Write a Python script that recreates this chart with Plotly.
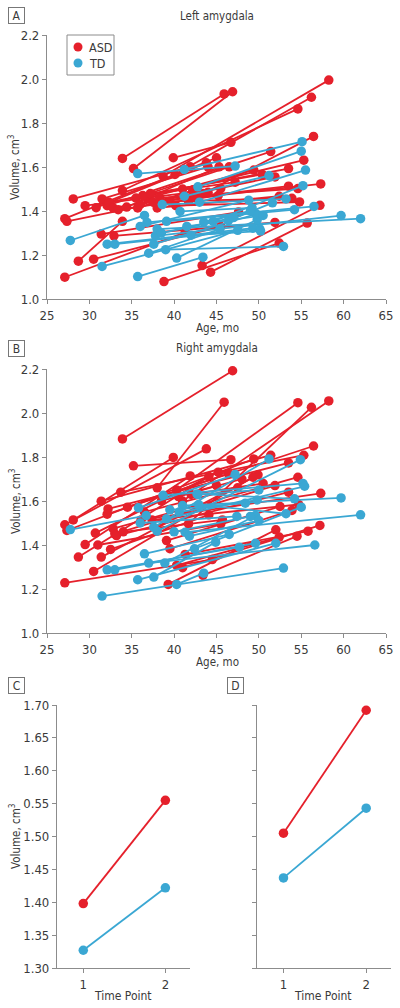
import plotly.graph_objects as go

# ---------------- DATA ----------------
# Panel A (Left amygdala): each subject = (age1, vol1) -> (age2, vol2)
a_asd_age1 = [27.1, 28.7, 30.5, 31.4, 32.9, 38.8, 43.3, 44.3, 33.9, 35.2, 38.7, 40.1, 33.9, 39.9, 41.7,
              27.1, 27.35, 28.1, 29.5, 30.8, 31.5, 32.1, 32.3, 32.8, 33.4, 34.4, 35.5, 35.7, 36.8, 37.2,
              38.0, 39.5, 40.2, 36.0, 37.5, 38.3, 41.0, 42.5, 36.3]
a_asd_vol1 = [1.099, 1.172, 1.181, 1.295, 1.287, 1.079, 1.152, 1.122, 1.639, 1.593, 1.558, 1.566, 1.493, 1.642, 1.444,
              1.365, 1.353, 1.455, 1.424, 1.415, 1.455, 1.424, 1.440, 1.414, 1.406, 1.418, 1.459, 1.414, 1.459, 1.479,
              1.414, 1.444, 1.424, 1.430, 1.440, 1.460, 1.500, 1.460, 1.470]
a_asd_age2 = [41.3, 33.9, 45.5, 47.6, 51.9, 52.4, 57.2, 55.7, 45.9, 46.9, 58.25, 56.2, 54.6, 46.7, 56.45,
              45.0, 43.4, 41.9, 45.5, 43.8, 44.0, 51.4, 53.5, 44.0, 45.2, 45.3, 46.5, 42.2, 49.4, 50.4,
              52.4, 53.9, 54.8, 51.9, 53.5, 54.6, 55.3, 57.3, 47.2]
a_asd_vol2 = [1.303, 1.353, 1.330, 1.395, 1.348, 1.254, 1.426, 1.345, 1.932, 1.942, 1.995, 1.917, 1.864, 1.712, 1.739,
              1.642, 1.479, 1.601, 1.502, 1.619, 1.601, 1.670, 1.593, 1.485, 1.470, 1.601, 1.601, 1.494, 1.586, 1.566,
              1.467, 1.458, 1.441, 1.555, 1.513, 1.502, 1.631, 1.523, 1.531]

a_td_age1 = [27.75, 31.5, 32.1, 33.0, 35.7, 37.0, 39.0, 40.3, 35.7, 36.8, 37.6, 37.8, 38.0, 38.6, 39.1,
             40.7, 41.2, 41.2, 42.8, 43.0, 44.6, 46.4, 36.0, 38.5, 41.5, 43.5, 42.0]
a_td_vol1 = [1.266, 1.148, 1.249, 1.249, 1.102, 1.208, 1.224, 1.186, 1.570, 1.348, 1.249, 1.287, 1.318, 1.429, 1.353,
             1.398, 1.589, 1.467, 1.510, 1.440, 1.353, 1.356, 1.330, 1.300, 1.330, 1.350, 1.290]
a_td_age2 = [36.5, 47.5, 49.3, 50.1, 43.4, 45.4, 52.9, 49.8, 47.2, 56.5, 49.7, 59.7, 62.0, 53.2, 54.2,
             49.2, 55.1, 51.2, 55.0, 55.5, 55.2, 51.6, 48.8, 47.0, 50.5, 49.0, 50.2]
a_td_vol2 = [1.380, 1.312, 1.322, 1.319, 1.190, 1.318, 1.239, 1.360, 1.604, 1.421, 1.386, 1.379, 1.365, 1.455, 1.406,
             1.414, 1.715, 1.561, 1.672, 1.586, 1.515, 1.437, 1.449, 1.370, 1.380, 1.400, 1.309]

# Panel B (Right amygdala)
b_asd_age1 = [33.9, 38.0, 40.3, 41.7, 41.0, 35.2, 28.1, 27.1, 27.35, 31.4, 33.7, 34.5, 32.2, 32.1, 29.5,
              28.7, 30.7, 31.4, 30.5, 27.1, 32.8, 33.0, 33.2, 36.1, 37.4, 39.1, 39.5, 39.3, 41.3, 41.0,
              40.3, 43.4, 31.0, 34.0, 32.5, 36.5, 38.5, 40.5, 42.0]
b_asd_vol1 = [1.882, 1.660, 1.650, 1.496, 1.600, 1.760, 1.514, 1.492, 1.466, 1.599, 1.640, 1.572, 1.564, 1.540, 1.402,
              1.345, 1.454, 1.345, 1.280, 1.228, 1.474, 1.451, 1.443, 1.514, 1.514, 1.420, 1.383, 1.221, 1.357, 1.297,
              1.307, 1.262, 1.400, 1.460, 1.380, 1.550, 1.600, 1.620, 1.630]
b_asd_age2 = [46.9, 45.9, 54.6, 56.2, 58.25, 46.7, 39.9, 43.8, 49.4, 51.4, 55.3, 56.45, 53.5, 46.4, 41.9,
              44.1, 45.2, 49.9, 49.3, 44.5, 54.6, 51.9, 53.5, 57.3, 54.7, 52.5, 53.9, 52.0, 55.8, 57.2,
              52.4, 54.5, 45.5, 45.7, 44.1, 47.5, 45.0, 48.0, 50.5]
b_asd_vol2 = [2.192, 2.049, 2.047, 2.026, 2.055, 1.788, 1.798, 1.837, 1.791, 1.808, 1.808, 1.850, 1.773, 1.724, 1.714,
              1.711, 1.731, 1.719, 1.708, 1.334, 1.708, 1.670, 1.640, 1.635, 1.584, 1.575, 1.557, 1.469, 1.463, 1.489,
              1.436, 1.440, 1.496, 1.514, 1.537, 1.660, 1.670, 1.700, 1.680]

b_td_age1 = [27.75, 31.5, 32.1, 33.0, 35.7, 37.6, 37.0, 38.9, 40.3, 42.4, 35.8, 37.6, 38.0, 38.7, 39.1,
             41.0, 41.3, 42.7, 42.9, 42.8, 36.5, 36.0, 40.0, 41.8, 40.6, 39.5]
b_td_vol1 = [1.470, 1.168, 1.287, 1.287, 1.242, 1.254, 1.318, 1.318, 1.221, 1.383, 1.569, 1.481, 1.463, 1.626, 1.519,
             1.579, 1.458, 1.632, 1.584, 1.629, 1.360, 1.500, 1.460, 1.440, 1.550, 1.560]
b_td_age2 = [36.7, 52.9, 47.7, 49.6, 52.0, 44.9, 56.6, 49.6, 43.5, 55.0, 47.2, 51.2, 54.9, 55.2, 55.4,
             59.7, 62.0, 54.2, 53.2, 50.0, 46.5, 47.4, 49.0, 50.0, 49.8, 48.4]
b_td_vol2 = [1.534, 1.295, 1.390, 1.408, 1.408, 1.413, 1.400, 1.534, 1.272, 1.572, 1.720, 1.791, 1.788, 1.680, 1.667,
             1.614, 1.537, 1.610, 1.542, 1.650, 1.448, 1.530, 1.530, 1.511, 1.605, 1.590]

# Panels C and D: group means at the two time points
time_points = [1, 2]
c_asd = [1.398, 1.555]
c_td = [1.327, 1.422]
d_asd = [1.505, 1.692]
d_td = [1.437, 1.543]

group_names = ["ASD", "TD"]
age_ticks = [25, 30, 35, 40, 45, 50, 55, 60, 65]
vol_ticks_ab = [1.0, 1.2, 1.4, 1.6, 1.8, 2.0, 2.2]
vol_tickvals_cd = [1.30, 1.35, 1.40, 1.45, 1.50, 1.55, 1.60, 1.65, 1.70]
vol_ticktext_cd = ["1.30", "1.35", "1.40", "1.45", "1.50", "0.55", "1.60", "1.65", "1.70"]

# ---------------- STYLE ----------------
RED = "#E5202B"
BLUE = "#3AA7D3"
AXC = "#8c8c8c"
TXT = "#3a3a3a"
FONT = "DejaVu Sans Condensed, Liberation Sans Narrow, Arial Narrow, sans-serif"
W, H = 400, 1008


def segs(x1, y1, x2, y2):
    xs, ys = [], []
    for a, b, c, d in zip(x1, y1, x2, y2):
        xs += [a, c, None]
        ys += [b, d, None]
    return xs, ys


def seg_trace(x1, y1, x2, y2, color, xa, ya, name):
    xs, ys = segs(x1, y1, x2, y2)
    return go.Scatter(x=xs, y=ys, mode="lines+markers", xaxis=xa, yaxis=ya, name=name,
                      line=dict(color=color, width=1.8),
                      marker=dict(color=color, size=9.5), showlegend=False,
                      cliponaxis=False, hoverinfo="skip")


fig = go.Figure()
fig.add_trace(seg_trace(a_asd_age1, a_asd_vol1, a_asd_age2, a_asd_vol2, RED, "x", "y", "ASD"))
fig.add_trace(seg_trace(a_td_age1, a_td_vol1, a_td_age2, a_td_vol2, BLUE, "x", "y", "TD"))
fig.add_trace(seg_trace(b_asd_age1, b_asd_vol1, b_asd_age2, b_asd_vol2, RED, "x2", "y2", "ASD"))
fig.add_trace(seg_trace(b_td_age1, b_td_vol1, b_td_age2, b_td_vol2, BLUE, "x2", "y2", "TD"))

for vals, col, xa, ya, nm in [(c_asd, RED, "x3", "y3", "ASD"), (c_td, BLUE, "x3", "y3", "TD"),
                              (d_asd, RED, "x4", "y4", "ASD"), (d_td, BLUE, "x4", "y4", "TD")]:
    fig.add_trace(go.Scatter(x=time_points, y=vals, mode="lines+markers", xaxis=xa, yaxis=ya, name=nm,
                             line=dict(color=col, width=1.8), marker=dict(color=col, size=9.5),
                             showlegend=False, cliponaxis=False, hoverinfo="skip"))


def px_x(p):
    return p / W


def px_y(p):
    return 1 - p / H


axis_common = dict(showgrid=False, zeroline=False, showline=True, linecolor=AXC, linewidth=1.2,
                   ticks="outside", tickcolor=AXC, ticklen=4, tickwidth=1.2, automargin=False,
                   tickfont=dict(family=FONT, size=13, color=TXT), fixedrange=True)

A_dom_x = [px_x(47), px_x(386)]
A_dom_y = [px_y(299), px_y(35)]
B_dom_y = [px_y(633), px_y(369)]
C_dom_x = [px_x(57), px_x(190)]
D_dom_x = [px_x(257), px_x(391)]
CD_dom_y = [px_y(968), px_y(705)]

fig.update_layout(
    width=W, height=H, margin=dict(l=0, r=0, t=0, b=0, autoexpand=False),
    paper_bgcolor="white", plot_bgcolor="white",
    font=dict(family=FONT, color=TXT, size=12),
    showlegend=False,
    xaxis=dict(domain=A_dom_x, range=[25, 65], tickvals=age_ticks, anchor="y", **axis_common),
    yaxis=dict(domain=A_dom_y, range=[1.0, 2.2], tickvals=vol_ticks_ab, tickformat=".1f",
               anchor="x", **axis_common),
    xaxis2=dict(domain=A_dom_x, range=[25, 65], tickvals=age_ticks, anchor="y2", **axis_common),
    yaxis2=dict(domain=B_dom_y, range=[1.0, 2.2], tickvals=vol_ticks_ab, tickformat=".1f",
                anchor="x2", **axis_common),
    xaxis3=dict(domain=C_dom_x, range=[0.68, 2.3], tickvals=time_points, anchor="y3", **axis_common),
    yaxis3=dict(domain=CD_dom_y, range=[1.30, 1.70], tickvals=vol_tickvals_cd, ticktext=vol_ticktext_cd,
                anchor="x3", **axis_common),
    xaxis4=dict(domain=D_dom_x, range=[0.68, 2.3], tickvals=time_points, anchor="y4", **axis_common),
    yaxis4=dict(domain=CD_dom_y, range=[1.30, 1.70], tickvals=vol_tickvals_cd, showticklabels=False,
                anchor="x4", **axis_common),
)

ann = []
shapes = []


def text(x, y, s, size=12, angle=0, xanchor="center"):
    ann.append(dict(x=px_x(x), y=px_y(y), xref="paper", yref="paper", text=s, showarrow=False,
                    xanchor=xanchor, yanchor="middle", textangle=angle,
                    font=dict(family=FONT, size=size, color=TXT)))


def box(x, y, s):
    ann.append(dict(x=px_x(x), y=px_y(y), xref="paper", yref="paper", text=s, showarrow=False,
                    xanchor="center", yanchor="middle", width=13, height=13,
                    bordercolor="#777777", borderwidth=1, borderpad=1,
                    font=dict(family=FONT, size=12, color=TXT)))


# legend (drawn manually to match the compact boxed legend)
shapes.append(dict(type="rect", xref="paper", yref="paper", x0=px_x(67), x1=px_x(114),
                   y0=px_y(75), y1=px_y(35), line=dict(color=AXC, width=1), fillcolor="white"))
for i, (nm, col) in enumerate(zip(group_names, [RED, BLUE])):
    cy = 47 + 16 * i
    shapes.append(dict(type="circle", xref="paper", yref="paper", x0=px_x(73.5), x1=px_x(82.5),
                       y0=px_y(cy + 4.5), y1=px_y(cy - 4.5), line=dict(color=col, width=0),
                       fillcolor=col))
    text(87, cy, nm, 12.5, xanchor="left")

box(16.5, 16, "A")
box(16.5, 348, "B")
box(16.5, 685, "C")
box(235, 685, "D")
text(217, 16, "Left amygdala", 11.5)
text(217, 348, "Right amygdala", 11.5)
text(217, 328, "Age, mo", 11.5)
text(217, 662, "Age, mo", 11.5)
text(123, 996, "Time Point", 12)
text(323, 996, "Time Point", 12)
text(15, 167, "Volume, cm<sup>3</sup>", 11.5, -90)
text(15, 501, "Volume, cm<sup>3</sup>", 11.5, -90)
text(15, 836, "Volume, cm<sup>3</sup>", 11.5, -90)
fig.update_layout(annotations=ann, shapes=shapes)

fig.write_html("out.html", config={"displayModeBar": False},
               post_script="document.body.style.margin='0';document.body.style.padding='0';")
